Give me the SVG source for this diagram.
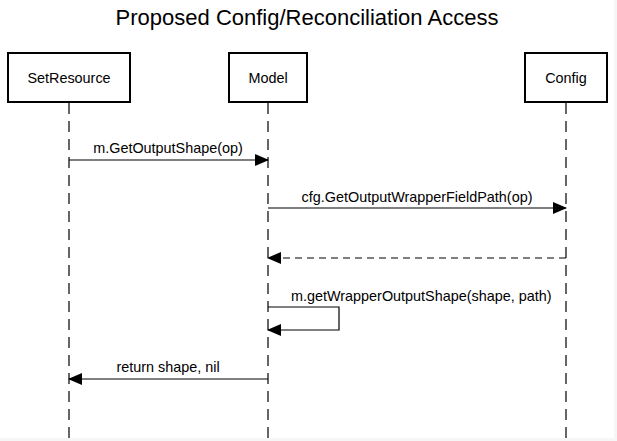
<svg xmlns="http://www.w3.org/2000/svg" width="617" height="441" viewBox="0 0 617 441">
<style>
text{font-family:"Liberation Sans",Arial,sans-serif;fill:#000}
.title{font-size:22px}
.lbl{font-size:14.4px}
.box{fill:#fff;stroke:#000;stroke-width:2}
.life{stroke:#000;stroke-width:1.2;stroke-dasharray:11,7}
.msg{stroke:#000;stroke-width:1.2;fill:none}
.ret{stroke:#000;stroke-width:1.2;fill:none;stroke-dasharray:7,5}
</style>
<defs>
<marker id="ah" markerWidth="14" markerHeight="12" refX="13" refY="6" orient="auto" markerUnits="userSpaceOnUse">
<path d="M0,0 L14,6 L0,12 Z" fill="#000"/>
</marker>
</defs>
<rect width="617" height="441" fill="#f6f6f6"/>
<rect width="614" height="438" fill="#fff"/>
<text class="title" x="307" y="25" text-anchor="middle">Proposed Config/Reconciliation Access</text>
<g id="lifelines">
<line class="life" x1="69" y1="103" x2="69" y2="438"/>
<line class="life" x1="268" y1="103" x2="268" y2="438"/>
<line class="life" x1="566" y1="103" x2="566" y2="438"/>
</g>
<g id="node-setresource">
<rect class="box" x="8" y="53" width="122" height="49"/>
<text class="lbl" x="69" y="82.5" text-anchor="middle">SetResource</text>
</g>
<g id="node-model">
<rect class="box" x="229" y="53" width="78" height="49"/>
<text class="lbl" x="268" y="82.5" text-anchor="middle">Model</text>
</g>
<g id="node-config">
<rect class="box" x="525" y="53" width="82" height="49"/>
<text class="lbl" x="566" y="82.5" text-anchor="middle">Config</text>
</g>
<g id="connectors">
<line class="msg" x1="69" y1="160" x2="268" y2="160" marker-end="url(#ah)"/>
<text class="lbl" x="168" y="153" text-anchor="middle">m.GetOutputShape(op)</text>
<line class="msg" x1="268" y1="208" x2="566" y2="208" marker-end="url(#ah)"/>
<text class="lbl" x="417" y="202" text-anchor="middle">cfg.GetOutputWrapperFieldPath(op)</text>
<line class="ret" x1="566" y1="258" x2="268" y2="258" marker-end="url(#ah)"/>
<polyline class="msg" points="268,307 339,307 339,330 268,330" marker-end="url(#ah)"/>
<text class="lbl" x="291" y="301">m.getWrapperOutputShape(shape, path)</text>
<line class="msg" x1="268" y1="379" x2="69" y2="379" marker-end="url(#ah)"/>
<text class="lbl" x="168" y="372" text-anchor="middle">return shape, nil</text>
</g>
</svg>
